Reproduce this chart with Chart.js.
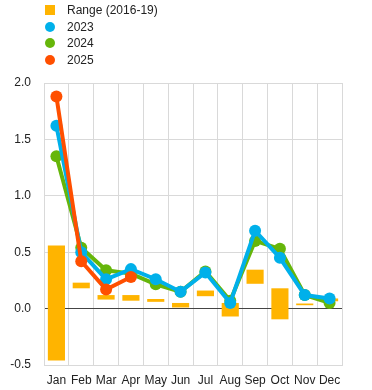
<!DOCTYPE html>
<html>
<head>
<meta charset="utf-8">
<script src="https://cdn.jsdelivr.net/npm/chart.js@4"></script>
<style>
  body { margin: 0; background: #fff; font-family: "Liberation Sans", Arial, sans-serif; }
  #wrap { position: relative; width: 372px; height: 390px; }
  #legend { position: absolute; left: 45px; top: 2px; font-size: 12px; color: #222; }
  .item { height: 16.5px; line-height: 16.5px; display: flex; align-items: center; }
  .mark { width: 10px; height: 10px; margin-right: 12px; }
  .dot { border-radius: 50%; }
</style>
</head>
<body>
<div id="wrap">
  <canvas id="chart" width="372" height="390"></canvas>
  <div id="legend"></div>
</div>
<script>
const months = ["Jan", "Feb", "Mar", "Apr", "May", "Jun", "Jul", "Aug", "Sep", "Oct", "Nov", "Dec"];

// Range (2016-19) low / high
const rangeLow  = [-0.46, 0.18, 0.08, 0.07, 0.06, 0.01, 0.11, -0.07, 0.22, -0.095, 0.03, 0.065];
const rangeHigh = [0.56, 0.23, 0.12, 0.12, 0.085, 0.05, 0.16, 0.05, 0.345, 0.18, 0.045, 0.09];

const y2023 = [1.62, 0.50, 0.26, 0.35, 0.26, 0.15, 0.32, 0.05, 0.69, 0.45, 0.12, 0.09];
const y2024 = [1.35, 0.54, 0.34, 0.31, 0.215, 0.15, 0.33, 0.07, 0.60, 0.53, 0.12, 0.05];
const y2025 = [1.88, 0.42, 0.17, 0.28];

const colRange = "#FFB400";
const col2023 = "#00B0EA";
const col2024 = "#66B60A";
const col2025 = "#FF4F00";

// legend
const legendItems = [
  { label: "Range (2016-19)", color: colRange, round: false },
  { label: "2023", color: col2023, round: true },
  { label: "2024", color: col2024, round: true },
  { label: "2025", color: col2025, round: true }
];
const legend = document.getElementById("legend");
legendItems.forEach(it => {
  const row = document.createElement("div");
  row.className = "item";
  row.innerHTML = `<span class="mark${it.round ? " dot" : ""}" style="background:${it.color}"></span>${it.label}`;
  legend.appendChild(row);
});

function lineSet(label, data, color, order) {
  return {
    type: "line",
    label: label,
    data: data,
    borderColor: color,
    backgroundColor: color,
    borderWidth: 4,
    pointRadius: 6,
    pointBorderWidth: 0,
    tension: 0,
    order: order
  };
}

new Chart(document.getElementById("chart"), {
  type: "bar",
  data: {
    labels: months,
    datasets: [
      {
        label: "Range (2016-19)",
        data: rangeLow.map((lo, i) => [lo, rangeHigh[i]]),
        backgroundColor: colRange,
        borderWidth: 0,
        categoryPercentage: 1,
        barPercentage: 0.69,
        order: 4
      },
      lineSet("2024", y2024, col2024, 3),
      lineSet("2023", y2023, col2023, 2),
      lineSet("2025", y2025, col2025, 1)
    ]
  },
  options: {
    responsive: false,
    animation: false,
    layout: { padding: { top: 83, right: 30, left: 0, bottom: 0 } },
    plugins: { legend: { display: false }, tooltip: { enabled: false } },
    scales: {
      x: {
        grid: { color: "#d9d9d9", drawTicks: false, offset: true },
        border: { color: "#d9d9d9" },
        ticks: { color: "#222", font: { family: "Liberation Sans", size: 12 }, padding: 8, maxRotation: 0, autoSkip: false },
        afterFit: s => { s.height = 25; }
      },
      y: {
        min: -0.5,
        max: 2.0,
        grid: {
          drawTicks: false,
          color: ctx => ctx.tick && ctx.tick.value === 0 ? "#444" : "#d9d9d9"
        },
        border: { color: "#d9d9d9" },
        ticks: {
          stepSize: 0.5,
          color: "#222",
          font: { family: "Liberation Sans", size: 12 },
          padding: 13,
          callback: v => v.toFixed(1)
        },
        afterFit: s => { s.width = 44; }
      }
    }
  }
});
</script>
</body>
</html>
